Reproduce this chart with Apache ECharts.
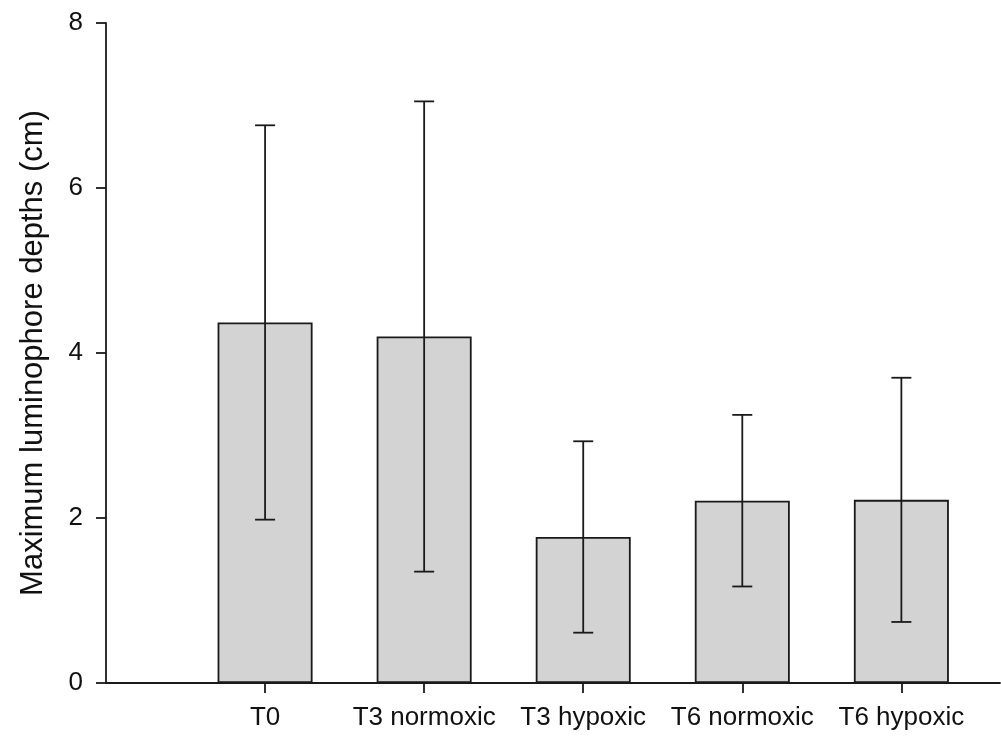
<!DOCTYPE html>
<html>
<head>
<meta charset="utf-8">
<title>Maximum luminophore depths</title>
<script src="https://cdn.jsdelivr.net/npm/echarts@6/dist/echarts.min.js"></script>
<style>
  html, body { margin: 0; padding: 0; background: #ffffff; }
  #chart { width: 1001px; height: 751px; }
</style>
</head>
<body>
<div id="chart"></div>
<script>
// Treatments and their mean maximum luminophore depth (cm) with error (± SD)
const categories = ['T0', 'T3 normoxic', 'T3 hypoxic', 'T6 normoxic', 'T6 hypoxic'];
const means = [4.37, 4.20, 1.77, 2.21, 2.22];
const errors = [2.39, 2.85, 1.16, 1.04, 1.48];
const yTicks = [0, 2, 4, 6, 8];

// Each treatment sits at an integer slot along a numeric x axis
const positions = categories.map((_, i) => i + 1);

const barData = positions.map((p, i) => [p, means[i]]);
const errData = positions.map((p, i) => [p, means[i] - errors[i], means[i] + errors[i]]);

const ink = '#1a1a1a';
const font = '"Liberation Sans", Arial, sans-serif';
const strokeW = 1.8;

const chart = echarts.init(document.getElementById('chart'), null, { renderer: 'canvas' });

chart.setOption({
  animation: false,
  backgroundColor: '#ffffff',
  grid: { left: 106, right: 1, top: 23, bottom: 68, containLabel: false },
  xAxis: {
    type: 'value',
    min: 0,
    max: 5.62,
    splitLine: { show: false },
    axisLine: { show: true, onZero: false, lineStyle: { color: ink, width: strokeW } },
    axisTick: {
      show: true,
      customValues: positions,
      length: 10,
      lineStyle: { color: ink, width: strokeW }
    },
    axisLabel: {
      customValues: positions,
      formatter: v => categories[Math.round(v) - 1] || '',
      margin: 22,
      color: '#111',
      fontFamily: font,
      fontSize: 26
    }
  },
  yAxis: {
    type: 'value',
    min: yTicks[0],
    max: yTicks[yTicks.length - 1],
    interval: 2,
    name: 'Maximum luminophore depths (cm)',
    nameLocation: 'middle',
    nameGap: 57,
    nameTextStyle: { color: '#111', fontFamily: font, fontSize: 31 },
    splitLine: { show: false },
    axisLine: { show: true, lineStyle: { color: ink, width: strokeW } },
    axisTick: { show: true, length: 10, lineStyle: { color: ink, width: strokeW } },
    axisLabel: {
      margin: 23,
      color: '#111',
      fontFamily: font,
      fontSize: 26
    }
  },
  series: [
    {
      type: 'bar',
      data: barData,
      barWidth: 95,
      itemStyle: { color: '#d3d3d3', borderColor: ink, borderWidth: strokeW },
      z: 2
    },
    {
      type: 'custom',
      data: errData,
      z: 3,
      renderItem: (params, api) => {
        const x = api.value(0);
        const lo = api.coord([x, api.value(1)]);
        const hi = api.coord([x, api.value(2)]);
        const half = 10;
        const style = { stroke: ink, lineWidth: strokeW };
        return {
          type: 'group',
          children: [
            { type: 'line', shape: { x1: hi[0], y1: hi[1], x2: lo[0], y2: lo[1] }, style },
            { type: 'line', shape: { x1: hi[0] - half, y1: hi[1], x2: hi[0] + half, y2: hi[1] }, style },
            { type: 'line', shape: { x1: lo[0] - half, y1: lo[1], x2: lo[0] + half, y2: lo[1] }, style }
          ]
        };
      }
    }
  ]
});
</script>
</body>
</html>
